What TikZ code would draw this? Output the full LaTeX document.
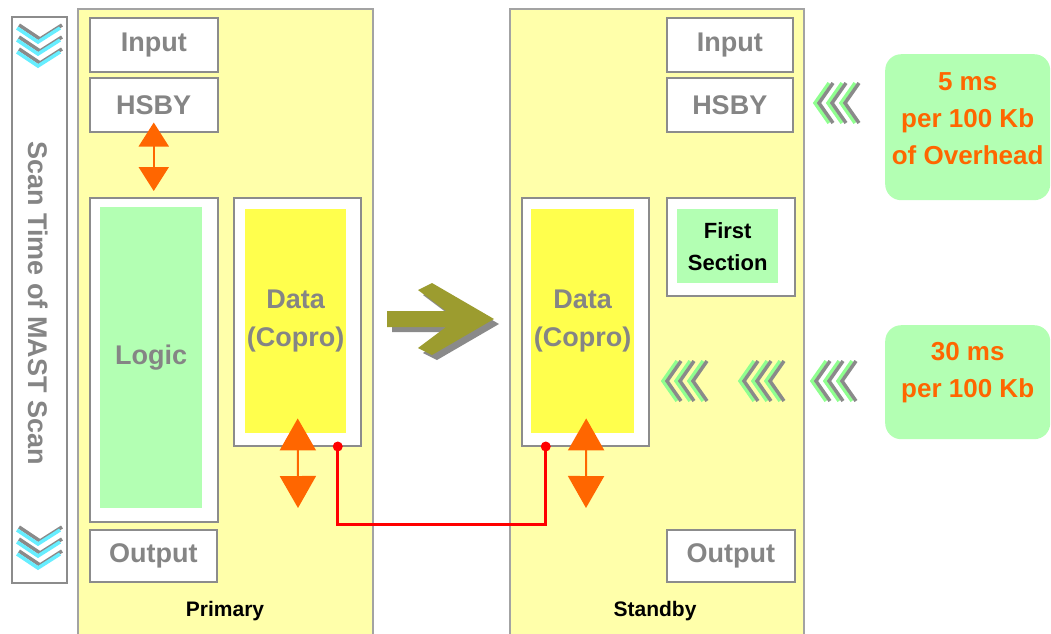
\documentclass[tikz,border=0pt]{standalone}
\usepackage{fontspec}
\setmainfont{Liberation Sans}
\usetikzlibrary{positioning,arrows.meta}
\definecolor{panelyellow}{HTML}{FFFFAA}
\definecolor{datayellow}{HTML}{FFFF4D}
\definecolor{softgreen}{HTML}{B3FFB3}
\definecolor{edgegray}{HTML}{8C8C8C}
\definecolor{txtgray}{HTML}{858585}
\definecolor{hotorange}{HTML}{FF6600}
\definecolor{arrowolive}{HTML}{9C9C2F}
\definecolor{scancyan}{HTML}{66EEFF}
\definecolor{shadowgray}{HTML}{8A8A8A}

\begin{document}
\begin{tikzpicture}[x=1pt, y=-1pt,
  box/.style={draw=edgegray, line width=1.5pt, fill=white, anchor=north west, inner sep=0pt, align=center, text=txtgray, font=\fontsize{27}{38}\selectfont\bfseries},
  panel/.style={draw=edgegray!80, line width=1.5pt, fill=panelyellow, anchor=north west, inner sep=0pt},
  core/.style={anchor=north west, inner sep=0pt, align=center, text=txtgray, font=\fontsize{27}{38}\selectfont\bfseries},
  tag/.style={font=\fontsize{21}{24}\selectfont\bfseries},
  note/.style={fill=softgreen, rounded corners=16pt, anchor=north west, inner sep=0pt},
  notetext/.style={align=center, text=hotorange, font=\fontsize{26}{37}\selectfont\bfseries},
  dbl/.style={draw=hotorange, line width=2pt, arrows={Triangle[width=30pt,length=24pt]-Triangle[width=30pt,length=24pt]}},
  bigdbl/.style={draw=hotorange, line width=2pt, arrows={Triangle[width=36pt,length=32pt]-Triangle[width=36pt,length=32pt]}},
  link/.style={draw=red, line width=3pt},
  chev/.style={line width=3.5pt, line join=miter}]
\useasboundingbox (0,0) rectangle (1051,633);

\node[box, minimum width=55pt, minimum height=566pt] (scan) at (11,16) {};
\node[text=txtgray, font=\fontsize{27}{30}\selectfont\bfseries, rotate=-90] (scanLbl) at (38,303) {Scan Time of MAST Scan};
\foreach \y in {28,530}{
  \foreach \k in {0,12,24}{
    \draw[chev, shadowgray] (19,\y+\k-3) -- (40,\y+\k+11) -- (62,\y+\k-3);
    \draw[chev, scancyan] (17,\y+\k) -- (38,\y+\k+14) -- (60,\y+\k);
  }
}

\node[panel, minimum width=295pt, minimum height=650pt] (primary) at (77,8) {};
\node[panel, minimum width=294pt, minimum height=650pt] (standby) at (509,8) {};
\node[tag] (primaryLbl) at (225,611) {Primary};
\node[tag] (standbyLbl) at (655,611) {Standby};

\node[box, minimum width=128pt, minimum height=54pt] (inP) at (89,17) {Input};
\node[box, minimum width=128pt, minimum height=54pt] (hsbyP) at (89,77) {HSBY};
\node[box, minimum width=128pt, minimum height=324pt] (logicBoxP) at (89,197) {};
\node[core, fill=softgreen, minimum width=102pt, minimum height=301pt] (logicP) at (100,207) {Logic};
\node[box, minimum width=127pt, minimum height=248pt] (dataBoxP) at (233,197) {};
\node[core, fill=datayellow, minimum width=101pt, minimum height=224pt] (dataP) at (245,209) {Data\\(Copro)};
\node[box, minimum width=127pt, minimum height=52pt] (outP) at (89,529) {Output};

\node[box, minimum width=126pt, minimum height=54pt] (inS) at (666,17) {Input};
\node[box, minimum width=126pt, minimum height=54pt] (hsbyS) at (666,77) {HSBY};
\node[box, minimum width=128pt, minimum height=98pt] (firstBox) at (666,197) {};
\node[core, fill=softgreen, text=black, font=\fontsize{22}{32}\selectfont\bfseries, minimum width=101pt, minimum height=74pt] (first) at (677,209) {First\\Section};
\node[box, minimum width=127pt, minimum height=248pt] (dataBoxS) at (521,197) {};
\node[core, fill=datayellow, minimum width=103pt, minimum height=224pt] (dataS) at (531,209) {Data\\(Copro)};
\node[box, minimum width=128pt, minimum height=52pt] (outS) at (666,529) {Output};

\node[note, minimum width=165pt, minimum height=146pt] (ovh) at (885,54) {};
\node[notetext] (ovhTxt) at ([yshift=9pt]ovh.center) {5 ms\\per 100 Kb\\of Overhead};
\node[note, minimum width=165pt, minimum height=114pt] (rate) at (885,325) {};
\node[notetext] (rateTxt) at ([yshift=10pt]rate.center) {30 ms\\per 100 Kb};

\foreach \cx/\cy in {663/381,740/381,812/381,815/103}{
  \foreach \k in {0,13,26}{
    \draw[chev, softgreen!80!green] (\cx+\k+14,\cy-20) -- (\cx+\k,\cy) -- (\cx+\k+14,\cy+20);
    \draw[chev, shadowgray] (\cx+\k+18,\cy-20) -- (\cx+\k+4,\cy) -- (\cx+\k+18,\cy+20);
  }
}

\foreach \s/\c in {5/shadowgray,0/arrowolive}{
  \fill[\c, shift={(\s,\s)}] (387,311) -- (446,311) -- (418,290) -- (432,283) -- (494,319) -- (432,355) -- (418,348) -- (446,327) -- (387,327) -- cycle;
}

\coordinate (pEnd) at (298,508);
\coordinate (sEnd) at (586,508);
\draw[dbl] ([yshift=10pt]hsbyP.south) -- ([yshift=6pt]logicBoxP.north);
\draw[bigdbl] ([xshift=2pt,yshift=15pt]dataP.south) -- (pEnd);
\draw[bigdbl] ([xshift=3.5pt,yshift=15pt]dataS.south) -- (sEnd);

\coordinate (pJoin) at ([xshift=40.5pt]dataBoxP.south);
\coordinate (sJoin) at ([xshift=-39.5pt]dataBoxS.south);
\coordinate (lnk) at (440,524);
\draw[link] (pJoin) |- (lnk) -| (sJoin);
\foreach \p in {pJoin,sJoin}{\fill[red] (\p) circle (5pt);}
\end{tikzpicture}
\end{document}
